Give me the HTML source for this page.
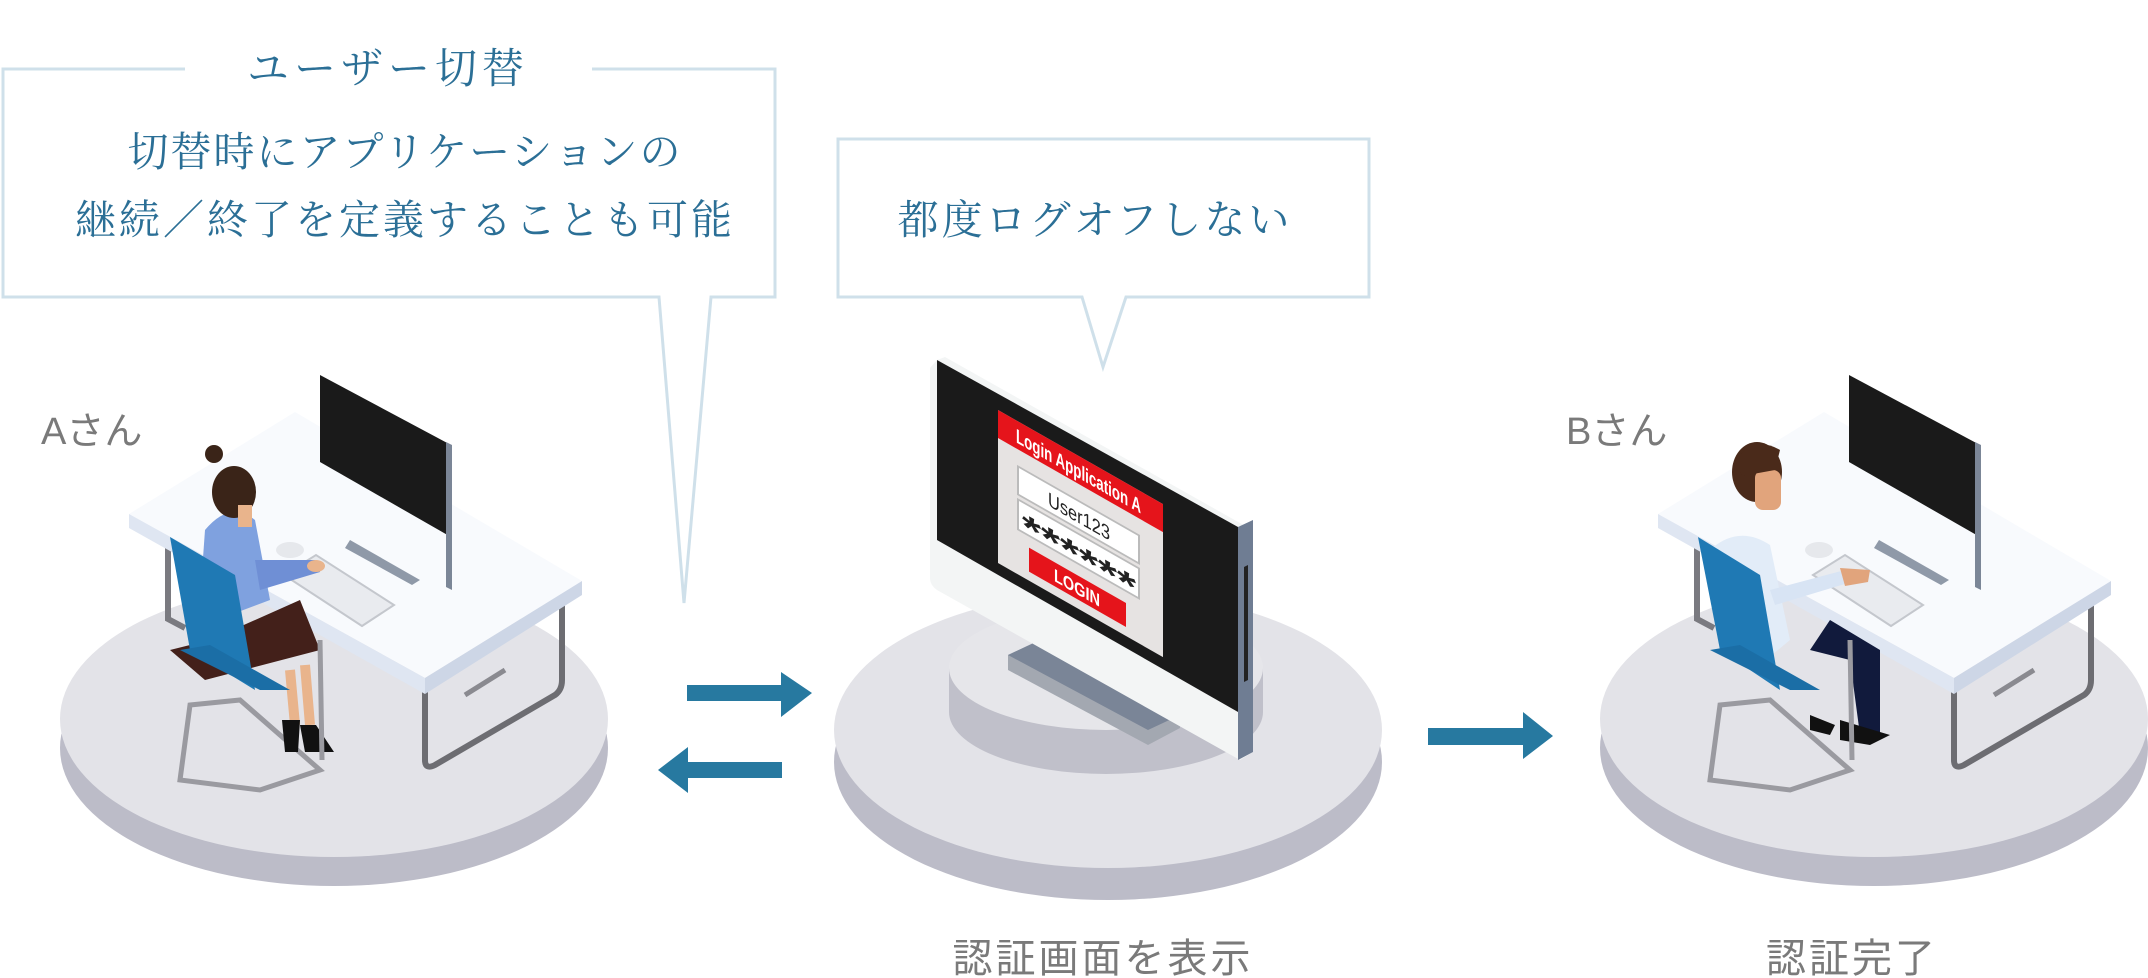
<!DOCTYPE html>
<html><head><meta charset="utf-8"><style>
html,body{margin:0;padding:0;background:#fff;}
svg{display:block}
.ser{font-family:"Liberation Serif","Noto Serif CJK SC","Noto Sans CJK JP",serif;fill:#2b6f96;}
.san{font-family:"Liberation Sans","Noto Sans CJK JP",sans-serif;fill:#7a7a7a;}
</style></head><body>
<svg width="2148" height="978" viewBox="0 0 2148 978" xmlns="http://www.w3.org/2000/svg">
<path d="M185,69 H3 V297 H659 L684,603 L711,297 H775 V69 H592" fill="none" stroke="#cfe0ea" stroke-width="3"/>
<text x="388" y="83" text-anchor="middle" class="ser" font-size="42" letter-spacing="5">ユーザー切替</text>
<text x="405" y="166" text-anchor="middle" class="ser" font-size="41" letter-spacing="2">切替時にアプリケーションの</text>
<text x="405" y="234" text-anchor="middle" class="ser" font-size="41" letter-spacing="3">継続／終了を定義することも可能</text>
<path d="M838,139 H1369 V297 H1126 L1103,367 L1082,297 H838 Z" fill="#fff" stroke="#cfe0ea" stroke-width="3"/>
<text x="1095" y="234" text-anchor="middle" class="ser" font-size="41" letter-spacing="3">都度ログオフしない</text>

<ellipse cx="334" cy="748" rx="274" ry="138" fill="#bcbcc8"/>
<ellipse cx="334" cy="719" rx="274" ry="138" fill="#e3e3e8"/>
<ellipse cx="1108" cy="762" rx="274" ry="138" fill="#bcbcc8"/>
<ellipse cx="1108" cy="730" rx="274" ry="138" fill="#e3e3e8"/>
<ellipse cx="1874" cy="748" rx="274" ry="138" fill="#bcbcc8"/>
<ellipse cx="1874" cy="719" rx="274" ry="138" fill="#e3e3e8"/>
<ellipse cx="1106" cy="712" rx="157" ry="62" fill="#c0c0ca"/>
<rect x="949" y="668" width="314" height="44" fill="#c0c0ca"/>
<ellipse cx="1106" cy="668" rx="157" ry="62" fill="#e6e6ea"/>

<g fill="#2779a0">
<path d="M687,685 H781 V672 L812,693 L781,717 V701 H687 Z"/>
<path d="M782,762 H688 V747 L658,770 L688,793 V778 H782 Z"/>
<path d="M1428,728 H1523 V712 L1553,736 L1523,759 V745 H1428 Z"/>
</g>

<defs>
<g id="desk">
  <path d="M168,544 V619 L185,628" fill="none" stroke="#7a7a80" stroke-width="6"/>
  <path d="M425,680 V760 Q425,770 435,765 L555,695 Q562,690 562,680 V598" fill="none" stroke="#6d6d72" stroke-width="6"/>
  <path d="M505,670 L465,695" stroke="#8a8a90" stroke-width="5"/>
  <path d="M129,514 L295,412 L582,581 L425,678 Z" fill="#f8fafd"/>
  <path d="M129,514 L425,678 L425,694 L129,528 Z" fill="#dfe6f2"/>
  <path d="M425,678 L582,581 L582,595 L425,694 Z" fill="#cdd6e6"/>
  <path d="M320,375 L451,445 L451,537 L320,462 Z" fill="#1a1a1a"/>
  <path d="M446,442 L452,445 L452,590 L446,587 Z" fill="#7b8697"/>
  <path d="M350,540 L420,580 L412,585 L345,548 Z" fill="#8f99a8"/>
  <path d="M284,575 L316,555 L394,605 L362,626 Z" fill="#e9ebef" stroke="#c4c7cd" stroke-width="2"/>
  <ellipse cx="290" cy="550" rx="14" ry="8" fill="#e6e8ec"/>
</g>
</defs>

<use href="#desk"/>
<g>
  <path d="M190,705 L240,700 L320,770 L260,790 L180,780 Z" fill="none" stroke="#9a9aa0" stroke-width="5"/>
  <path d="M205,680 L170,650 L210,640 L300,600 L320,650 Z" fill="#43201a"/>
  <path d="M290,670 L295,725 M305,665 L310,725" stroke="#e9b48c" stroke-width="10"/>
  <path d="M282,720 L300,720 L298,752 L285,752 Z M300,725 L316,725 L334,752 L305,752 Z" fill="#111"/>
  <path d="M205,530 Q230,500 255,520 L270,600 L230,615 L200,600 Z" fill="#7fa1df"/>
  <path d="M255,560 L315,560 L320,572 L260,590 Z" fill="#6f8fd5"/>
  <ellipse cx="316" cy="566" rx="9" ry="6" fill="#e9b48c"/>
  <ellipse cx="234" cy="492" rx="22" ry="26" fill="#3a2418"/>
  <circle cx="214" cy="454" r="9" fill="#3a2418"/>
  <rect x="238" y="505" width="14" height="22" fill="#e9b48c"/>
  <path d="M170,537 L235,575 L255,690 L190,650 Z" fill="#1f79b4"/>
  <path d="M180,650 L260,690 L290,690 L210,645 Z" fill="#1b6ea6"/>
  <path d="M320,640 L322,760" stroke="#9a9aa0" stroke-width="5"/>
</g>
<text x="41" y="444" class="san" font-size="38">Aさん</text>

<use href="#desk" transform="translate(1529,0)"/>
<g>
  <path d="M1720,705 L1770,700 L1850,770 L1790,790 L1710,780 Z" fill="none" stroke="#9a9aa0" stroke-width="5"/>
  <path d="M1830,620 L1880,650 L1880,735 L1860,735 L1850,660 L1810,650 Z" fill="#111a3c"/>
  <path d="M1840,720 L1890,735 L1870,745 L1840,740 Z M1810,715 L1835,725 L1830,735 L1810,730 Z" fill="#111"/>
  <path d="M1712,548 Q1740,525 1770,545 L1790,640 L1760,665 L1720,640 Z" fill="#e2ecf8"/>
  <path d="M1770,590 L1845,570 L1848,583 L1775,605 Z" fill="#d8e4f4"/>
  <path d="M1840,568 L1870,570 L1868,582 L1845,586 Z" fill="#e1a47c"/>
  <ellipse cx="1757" cy="472" rx="25" ry="30" fill="#4a2a1a"/>
  <rect x="1755" y="470" width="26" height="40" rx="8" fill="#e1a47c"/>
  <path d="M1735,460 Q1755,435 1780,450 L1775,470 L1742,476 Z" fill="#4a2a1a"/>
  <path d="M1698,537 L1760,575 L1780,690 L1720,650 Z" fill="#1f79b4"/>
  <path d="M1710,650 L1790,690 L1820,690 L1740,645 Z" fill="#1b6ea6"/>
  <path d="M1850,640 L1852,760" stroke="#9a9aa0" stroke-width="5"/>
</g>
<text x="1566" y="444" class="san" font-size="38">Bさん</text>

<path d="M1008,655 L1040,640 L1180,715 L1180,728 L1148,745 L1008,670 Z" fill="#a3a8b1"/>
<path d="M1008,655 L1040,640 L1180,715 L1148,730 Z" fill="#7a8597"/>
<path d="M937,360 L945,357 L1240,523 L1253,530 L1253,752 L1240,760 L937,590 Q930,585 930,578 L930,368 Z" fill="#f3f5f5"/>
<path d="M1238,527 L1253,520 L1253,752 L1238,760 Z" fill="#6f7d93"/>
<path d="M1244,567 L1248,565 L1248,680 L1244,682 Z" fill="#222"/>
<path d="M937,360 L1238,527 L1238,712 L937,540 Z" fill="#1a1a1a"/>
<g transform="translate(998,410) skewY(29.7)">
  <rect x="0" y="0" width="165" height="153" fill="#e6e3e2"/>
  <rect x="0" y="0" width="165" height="28" fill="#e5141b"/>
  <text x="18" y="22" textLength="125" lengthAdjust="spacingAndGlyphs" font-family="Liberation Sans,sans-serif" font-weight="bold" font-size="20" fill="#fff">Login Application A</text>
  <rect x="20" y="45" width="121" height="28" fill="#fff" stroke="#bbb" stroke-width="2"/>
  <text x="50" y="67" textLength="62" lengthAdjust="spacingAndGlyphs" font-family="Liberation Sans,sans-serif" font-size="20" fill="#222">User123</text>
  <rect x="20" y="78" width="121" height="30" fill="#fff" stroke="#bbb" stroke-width="2"/>
  <text x="24" y="112" textLength="114" lengthAdjust="spacingAndGlyphs" font-family="Liberation Sans,sans-serif" font-weight="bold" font-size="34" fill="#222">******</text>
  <rect x="31" y="120" width="97" height="24" fill="#e5141b"/>
  <text x="56" y="139" textLength="46" lengthAdjust="spacingAndGlyphs" font-family="Liberation Sans,sans-serif" font-weight="bold" font-size="18" fill="#fff">LOGIN</text>
</g>

<text x="1103" y="972" text-anchor="middle" class="san" font-size="40" letter-spacing="3">認証画面を表示</text>
<text x="1852" y="972" text-anchor="middle" class="san" font-size="40" letter-spacing="3">認証完了</text>
</svg>
</body></html>
